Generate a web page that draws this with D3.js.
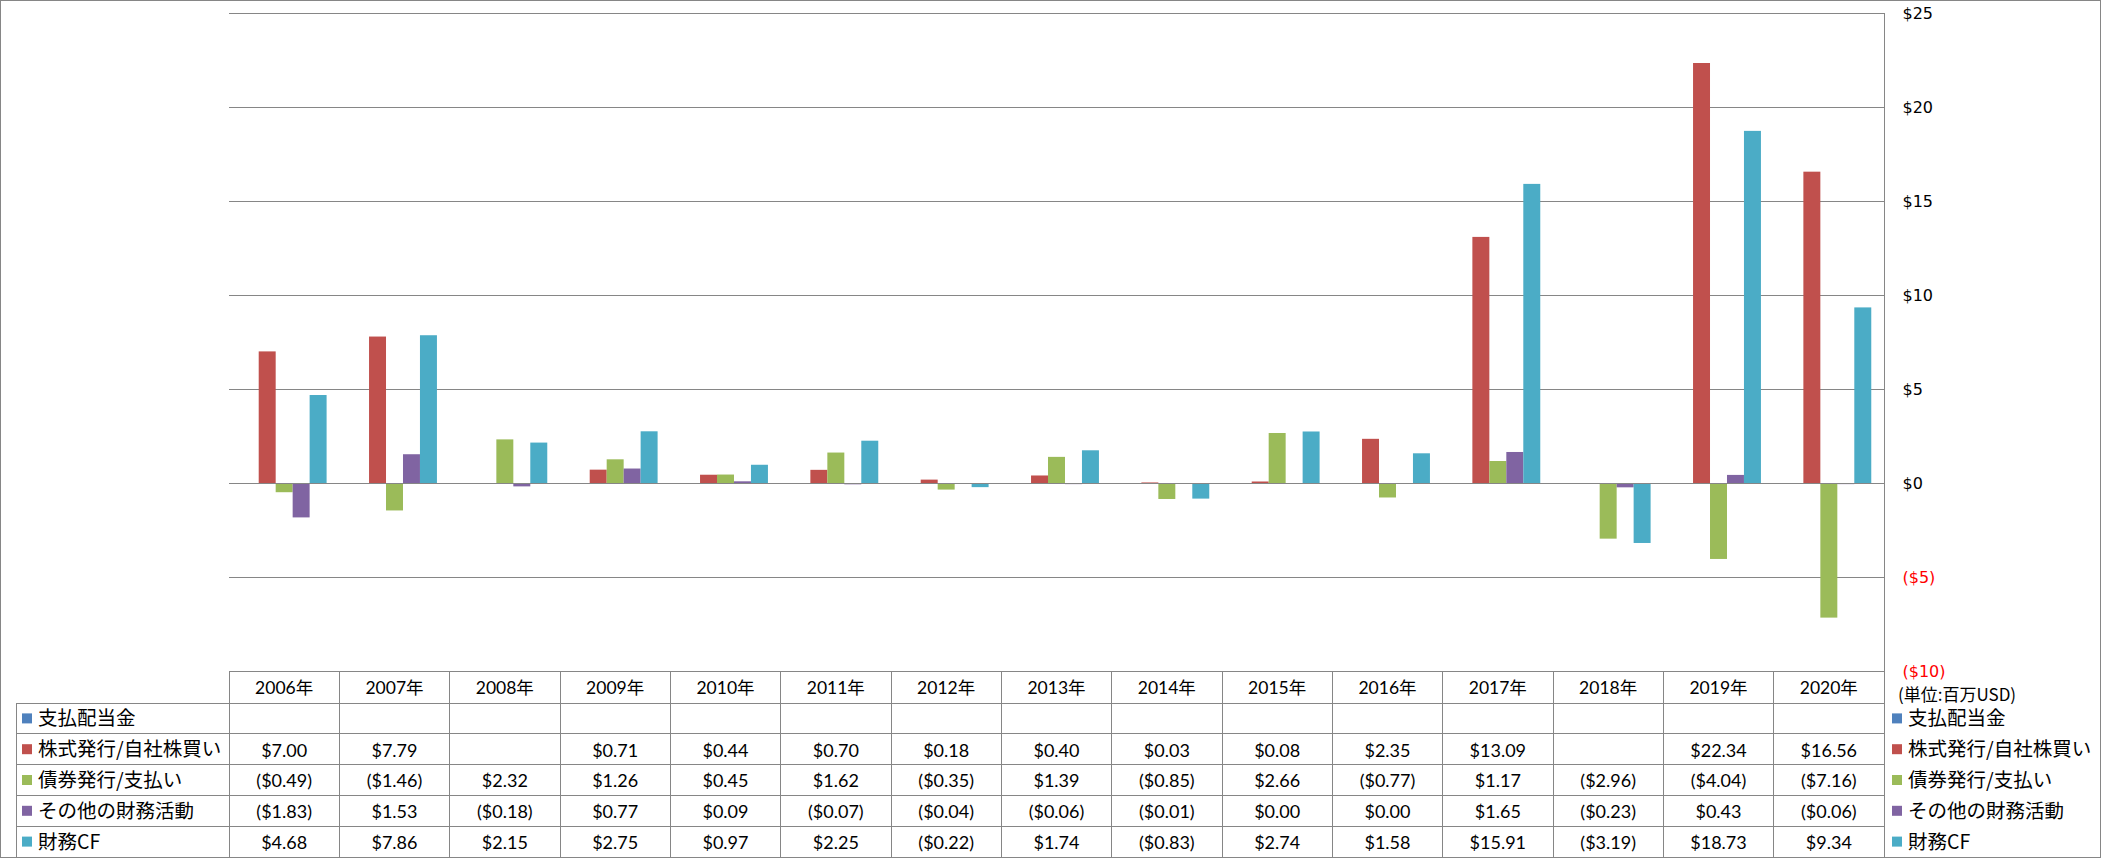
<!DOCTYPE html>
<html>
<head>
<meta charset="utf-8">
<script src="https://cdn.jsdelivr.net/npm/d3@7"></script>
<style>
  body { margin: 0; background: #fff; }
  svg { display: block; }
</style>
</head>
<body>
<div class="visData"></div>
<script>
const w = 2101;
const h = 858;

const years = ["2006年", "2007年", "2008年", "2009年", "2010年", "2011年", "2012年", "2013年",
  "2014年", "2015年", "2016年", "2017年", "2018年", "2019年", "2020年"];
const seriesNames = ["支払配当金", "株式発行/自社株買い", "債券発行/支払い", "その他の財務活動", "財務CF"];
const dividends = [null, null, null, null, null, null, null, null, null, null, null, null, null, null, null];
const stock = [7.00, 7.79, null, 0.71, 0.44, 0.70, 0.18, 0.40, 0.03, 0.08, 2.35, 13.09, null, 22.34, 16.56];
const debt = [-0.49, -1.46, 2.32, 1.26, 0.45, 1.62, -0.35, 1.39, -0.85, 2.66, -0.77, 1.17, -2.96, -4.04, -7.16];
const other = [-1.83, 1.53, -0.18, 0.77, 0.09, -0.07, -0.04, -0.06, -0.01, 0.00, 0.00, 1.65, -0.23, 0.43, -0.06];
const financeCF = [4.68, 7.86, 2.15, 2.75, 0.97, 2.25, -0.22, 1.74, -0.83, 2.74, 1.58, 15.91, -3.19, 18.73, 9.34];
const yTicks = [-10, -5, 0, 5, 10, 15, 20, 25];
const unitLabel = "(単位:百万USD)";

const series = [dividends, stock, debt, other, financeCF];
const colors = ["#4F81BD", "#C0504D", "#9BBB59", "#8064A2", "#4BACC6"];

const plotLeft = 229;
const plotRight = 1884;
const plotTop = 13;
const plotBottom = 671;
const tableLeft = 16;
const tableBottom = 857;
const gridColor = "#868686";
const numFont = "Lato, 'Noto Sans CJK JP', sans-serif";
const jpFont = "'Noto Sans CJK JP', sans-serif";
const axisFont = "'DejaVu Sans', Verdana, sans-serif";

const svg = d3.select(".visData").append("svg").attr("width", w).attr("height", h);

// outer frame
svg.append("rect")
  .attr("x", 0.5).attr("y", 0.5)
  .attr("width", w - 1).attr("height", h - 1)
  .attr("fill", "none").attr("stroke", gridColor);

const x = d3.scaleBand()
  .domain(years)
  .range([plotLeft, plotRight])
  .paddingInner(1.5 / 6.5)
  .paddingOuter(0.75 / 6.5);

const xs = d3.scaleBand().domain(d3.range(series.length)).range([0, x.bandwidth()]);

const y = d3.scaleLinear().domain([-10, 25]).range([plotBottom, plotTop]);

const fmt = (v) => {
  if (v === null) return "";
  const s = "$" + Math.abs(v).toFixed(2);
  return v < 0 && Math.abs(v) >= 0.005 ? "(" + s + ")" : s;
};

// gridlines
svg.append("g")
  .selectAll("line")
  .data(yTicks)
  .enter()
  .append("line")
  .attr("x1", plotLeft).attr("x2", plotRight)
  .attr("y1", (d) => Math.round(y(d)) + 0.5)
  .attr("y2", (d) => Math.round(y(d)) + 0.5)
  .attr("stroke", gridColor)
  .attr("stroke-width", 1);

// bars
const groups = svg.append("g")
  .selectAll("g")
  .data(series)
  .enter()
  .append("g")
  .attr("fill", (d, i) => colors[i]);

groups.each(function (vals, si) {
  d3.select(this)
    .selectAll("rect")
    .data(vals.map((v, i) => ({ v: v, year: years[i] })).filter((d) => d.v !== null))
    .enter()
    .append("rect")
    .attr("x", (d) => x(d.year) + xs(si))
    .attr("width", xs.bandwidth())
    .attr("y", (d) => y(Math.max(0, d.v)))
    .attr("height", (d) => Math.abs(y(d.v) - y(0)));
});

// zero line on top of bars
svg.append("line")
  .attr("x1", plotLeft).attr("x2", plotRight)
  .attr("y1", Math.round(y(0)) + 0.5).attr("y2", Math.round(y(0)) + 0.5)
  .attr("stroke", gridColor);

// right value axis
const axis = svg.append("g")
  .attr("transform", `translate(${plotRight + 0.5},0)`)
  .call(d3.axisRight(y).tickValues(yTicks).tickSize(0).tickPadding(18)
    .tickFormat((d) => (d < 0 ? "($" + Math.abs(d) + ")" : "$" + d)));
axis.select(".domain").attr("stroke", gridColor).attr("d", `M0,${plotTop}V${tableBottom}`);
axis.selectAll("text")
  .attr("font-family", axisFont)
  .attr("font-size", "16px")
  .attr("fill", (d) => (d < 0 ? "#FF0000" : "#000"))
  .attr("dy", "0.35em");

svg.append("text")
  .attr("x", plotRight + 14)
  .attr("y", 695)
  .attr("dy", "0.35em")
  .attr("font-family", jpFont)
  .attr("font-size", "17px")
  .text(unitLabel);

// data table
const rowTop = 703;
const rowH = (tableBottom - rowTop) / series.length;
const table = svg.append("g").attr("stroke", gridColor).attr("shape-rendering", "crispEdges");

// column lines
table.selectAll(".col")
  .data(d3.range(years.length))
  .enter()
  .append("line")
  .attr("x1", (d) => plotLeft + d * x.step())
  .attr("x2", (d) => plotLeft + d * x.step())
  .attr("y1", plotBottom).attr("y2", tableBottom);
table.append("line")
  .attr("x1", tableLeft).attr("x2", tableLeft)
  .attr("y1", rowTop).attr("y2", tableBottom);
// row lines
table.selectAll(".row")
  .data(d3.range(series.length))
  .enter()
  .append("line")
  .attr("x1", tableLeft).attr("x2", plotRight)
  .attr("y1", (d) => rowTop + d * rowH)
  .attr("y2", (d) => rowTop + d * rowH);

// header: years
svg.append("g")
  .selectAll("text")
  .data(years)
  .enter()
  .append("text")
  .attr("x", (d) => x(d) + x.bandwidth() / 2)
  .attr("y", (plotBottom + rowTop) / 2 + 1)
  .attr("dy", "0.35em")
  .attr("text-anchor", "middle")
  .attr("font-family", numFont)
  .attr("font-size", "17.5px")
  .text((d) => d);

// values
series.forEach((vals, si) => {
  svg.append("g")
    .selectAll("text")
    .data(vals)
    .enter()
    .append("text")
    .attr("x", (d, i) => x(years[i]) + x.bandwidth() / 2)
    .attr("y", rowTop + si * rowH + rowH / 2 + 1)
    .attr("dy", "0.35em")
    .attr("text-anchor", "middle")
    .attr("font-family", numFont)
    .attr("font-size", "18px")
    .text((d) => fmt(d));
});

// row headers (left) and legend (right)
[[tableLeft + 6, tableLeft + 22], [plotRight + 8, plotRight + 24]].forEach(([kx, tx]) => {
  const lg = svg.append("g");
  lg.selectAll("rect")
    .data(seriesNames)
    .enter()
    .append("rect")
    .attr("x", kx)
    .attr("y", (d, i) => rowTop + i * rowH + rowH / 2 - 5)
    .attr("width", 10)
    .attr("height", 10)
    .attr("fill", (d, i) => colors[i]);
  lg.selectAll("text")
    .data(seriesNames)
    .enter()
    .append("text")
    .attr("x", tx)
    .attr("y", (d, i) => rowTop + i * rowH + rowH / 2)
    .attr("dy", "0.36em")
    .attr("font-family", jpFont)
    .attr("font-size", "19.5px")
    .text((d) => d);
});
</script>
</body>
</html>
